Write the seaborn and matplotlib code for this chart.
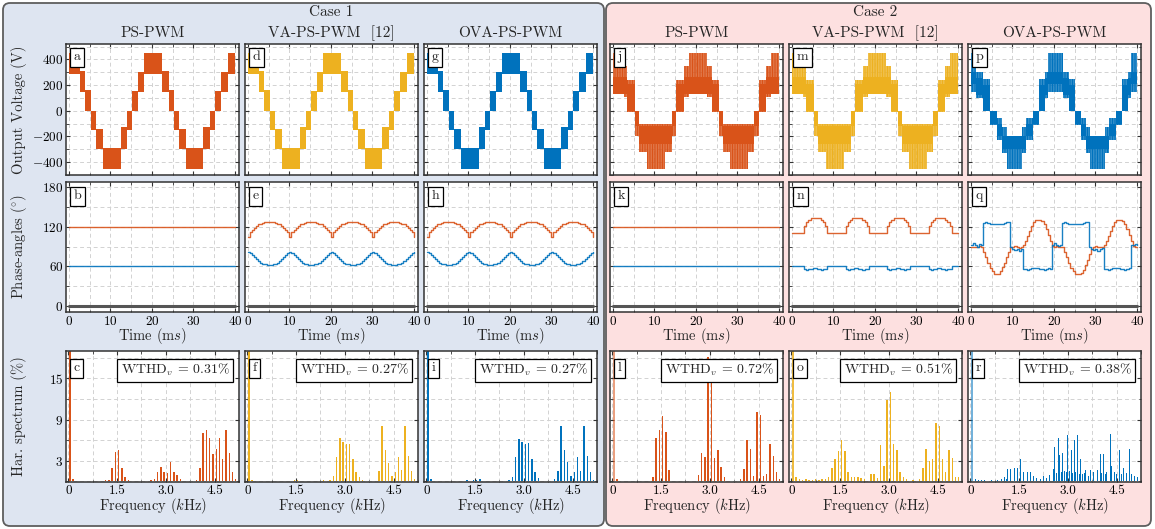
import numpy as np
import pandas as pd
import matplotlib
matplotlib.use("Agg")
import matplotlib.pyplot as plt
import seaborn as sns
from matplotlib.patches import FancyBboxPatch
from matplotlib.ticker import MultipleLocator, FixedLocator, FixedFormatter, NullFormatter

# ---------------------------------------------------------------- data
CASES = ["Case 1", "Case 2"]
METHODS = ["PS-PWM", "VA-PS-PWM  [12]", "OVA-PS-PWM"]
LETTERS = ["a", "b", "c", "d", "e", "f", "g", "h", "i",
           "j", "k", "l", "m", "n", "o", "p", "q", "r"]
WTHD = ["0.31", "0.27", "0.27", "0.72", "0.51", "0.38"]

# ---- output voltage (V): step envelopes (segment start in ms, band low / high)
C1_T = [0, 2.6, 4.0, 5.4, 6.6, 8.3, 12.5, 14.1, 15.3, 16.7, 18.1,
        22.4, 24.2, 25.4, 26.6, 28.2, 32.4, 34.0, 35.2, 36.7, 38.3]
C1_LO = [290, 150, 0, -150, -300, -450, -300, -150, 0, 150, 290,
         150, 0, -150, -300, -450, -300, -150, 0, 150, 290]
C1_HI = [450, 310, 160, 0, -140, -290, -130, 0, 155, 300, 450,
         310, 160, 0, -140, -290, -130, 0, 155, 300, 450]

C2A_T = [0, 2.7, 3.5, 5.4, 6.2, 8.2, 12.6, 14.2, 15.3, 17.1, 18.3,
         22.7, 23.9, 25.5, 26.5, 28.2, 32.5, 34.1, 35.2, 37.0, 38.2]
C2A_CORE_LO = [130, 130, 0, -120, -260, -260, -260, -120, 0, 130, 130,
               130, 0, -120, -260, -260, -260, -120, 0, 130, 130]
C2A_CORE_HI = [260, 260, 210, 0, -120, -120, -120, 0, 210, 260, 260,
               260, 210, 0, -120, -120, -120, 0, 210, 260, 260]
C2A_SPK_LO = [130, 110, -10, -200, -320, -450, -320, -200, -10, 110, 130,
              110, -10, -200, -320, -450, -320, -200, -10, 110, 130]
C2A_SPK_HI = [450, 350, 240, 0, -100, -100, -100, 0, 240, 350, 450,
              350, 240, 0, -100, -100, -100, 0, 240, 350, 450]

C2B_T = [0, 1.3, 2.8, 4.6, 6.3, 7.6, 8.6, 12.4, 13.4, 14.9, 16.4, 17.8, 18.7,
         22.2, 23.6, 25.2, 26.6, 27.8, 28.8, 32.4, 33.4, 34.9, 36.4, 37.8, 38.7]
C2B_CORE_LO = [210, 120, 0, -100, -200, -300, -300, -300, -200, -100, 0, 120, 210,
               120, 0, -100, -200, -300, -300, -300, -200, -100, 0, 120, 210]
C2B_CORE_HI = [300, 255, 200, 0, -100, -200, -200, -200, -100, 0, 200, 255, 300,
               255, 200, 0, -100, -200, -200, -200, -100, 0, 200, 255, 300]
C2B_SPK_LO = [150, 100, 0, -110, -230, -330, -450, -330, -230, -110, 0, 100, 150,
              100, 0, -110, -230, -330, -450, -330, -230, -110, 0, 100, 150]
C2B_SPK_HI = [450, 300, 250, 0, -60, -130, -200, -130, -60, 0, 250, 300, 450,
              300, 250, 0, -60, -130, -200, -130, -60, 0, 250, 300, 450]

# ---- phase angles (deg), sampled every 0.5 ms from 0 to 40 ms
T_PHASE = np.linspace(0, 40, 81)
PS_ORANGE, PS_BLUE, ZERO_LINE = 120, 60, 0

VA1_ORANGE = [105, 112, 116, 119, 122, 124, 125, 126, 127, 127,
              127, 127, 127, 126, 125, 124, 122, 119, 116, 112,
              105, 112, 116, 119, 122, 124, 125, 126, 127, 127,
              127, 127, 127, 126, 125, 124, 122, 119, 116, 112,
              105, 112, 116, 119, 122, 124, 125, 126, 127, 127,
              127, 127, 127, 126, 125, 124, 122, 119, 116, 112,
              105, 112, 116, 119, 122, 124, 125, 126, 127, 127,
              127, 127, 127, 126, 125, 124, 122, 119, 116, 112,
              105]
VA1_BLUE = [82, 80, 77, 74, 71, 68, 66, 64, 63, 62,
            62, 62, 63, 64, 66, 68, 71, 74, 77, 80,
            82, 80, 77, 74, 71, 68, 66, 64, 63, 62,
            62, 62, 63, 64, 66, 68, 71, 74, 77, 80,
            82, 80, 77, 74, 71, 68, 66, 64, 63, 62,
            62, 62, 63, 64, 66, 68, 71, 74, 77, 80,
            82, 80, 77, 74, 71, 68, 66, 64, 63, 62,
            62, 62, 63, 64, 66, 68, 71, 74, 77, 80,
            82]
VA2_ORANGE = [111, 111, 111, 111, 111, 111, 121, 127, 131, 134,
              134, 134, 134, 134, 131, 127, 121, 111, 111, 111,
              111, 111, 111, 111, 111, 111, 121, 127, 131, 134,
              134, 134, 134, 134, 131, 127, 121, 111, 111, 111,
              111, 111, 111, 111, 111, 111, 121, 127, 131, 134,
              134, 134, 134, 134, 131, 127, 121, 111, 111, 111,
              111, 111, 111, 111, 111, 111, 121, 127, 131, 134,
              134, 134, 134, 134, 131, 127, 121, 111, 111, 111,
              111]
VA2_BLUE = [60, 60, 60, 60, 60, 60, 56, 55, 56, 56,
            57, 57, 56, 56, 55, 56, 56, 60, 60, 60,
            60, 60, 60, 60, 60, 60, 56, 55, 56, 56,
            57, 57, 56, 56, 55, 56, 56, 60, 60, 60,
            60, 60, 60, 60, 60, 60, 56, 55, 56, 56,
            57, 57, 56, 56, 55, 56, 56, 60, 60, 60,
            60, 60, 60, 60, 60, 60, 56, 55, 56, 56,
            57, 57, 56, 56, 55, 56, 56, 60, 60, 60,
            60]
OVA2_ORANGE = [90, 90, 89, 90, 91, 90, 82, 74, 66, 58,
               53, 49, 48, 49, 53, 59, 66, 74, 82, 89,
               90, 91, 89, 88, 90, 92, 98, 106, 114, 121,
               127, 130, 131, 131, 129, 124, 117, 108, 99, 91,
               90, 91, 89, 90, 90, 82, 74, 66, 58, 53,
               49, 48, 48, 50, 55, 62, 70, 79, 87, 90,
               91, 89, 90, 90, 92, 98, 106, 114, 121, 127,
               130, 131, 131, 129, 124, 117, 108, 99, 91, 90,
               90]
OVA2_BLUE = [93, 95, 92, 90, 94, 93, 126, 127, 126, 125,
             124, 124, 124, 124, 125, 125, 126, 127, 127, 89,
             87, 85, 86, 84, 86, 56, 56, 55, 56, 57,
             57, 57, 57, 56, 56, 55, 56, 58, 56, 93,
             95, 92, 91, 93, 126, 127, 126, 125, 124, 124,
             124, 124, 125, 125, 126, 127, 127, 89, 87, 85,
             86, 84, 86, 88, 56, 56, 55, 56, 57, 57,
             57, 57, 56, 56, 55, 56, 57, 93, 92, 94,
             92]

# ---- harmonic spectra (kHz, % of fundamental)
C_F = [0.05, 0.15, 1.15, 1.25, 1.35, 1.45, 1.55, 1.65, 1.75, 1.85,
       2.55, 2.65, 2.75, 2.85, 2.95, 3.05, 3.15, 3.25, 3.35, 3.45,
       3.95, 4.05, 4.15, 4.25, 4.35, 4.45, 4.55, 4.65, 4.75, 4.85, 4.95, 5.05, 5.15]
C_V = [100, 0.3, 0.15, 0.2, 1.9, 4.3, 4.5, 2.0, 0.6, 0.15,
       0.15, 0.4, 1.3, 2.1, 1.4, 1.2, 2.8, 1.3, 0.9, 0.3,
       0.2, 1.9, 7.0, 7.5, 6.3, 4.0, 4.7, 6.3, 3.3, 7.5, 4.2, 1.4, 0.3]
F_F = [0.05, 0.15, 0.35, 1.05, 1.45, 1.55, 2.05, 2.35, 2.55,
       2.65, 2.75, 2.85, 2.95, 3.05, 3.15, 3.25, 3.35, 3.45, 3.55,
       4.05, 4.15, 4.25, 4.35, 4.45, 4.55, 4.65, 4.75, 4.85, 4.95, 5.05, 5.15]
F_V = [100, 0.25, 0.1, 0.1, 0.15, 0.15, 0.1, 0.15, 0.15,
       0.8, 3.6, 6.3, 5.7, 5.4, 5.5, 3.2, 1.3, 0.7, 0.2,
       1.5, 8.0, 4.6, 2.7, 0.8, 1.4, 3.6, 1.6, 8.0, 3.7, 1.5, 0.3]
I_F = [0.05, 0.15, 1.25, 1.45, 1.55, 1.65, 2.25, 2.55,
       2.65, 2.75, 2.85, 2.95, 3.05, 3.15, 3.25, 3.35, 3.45,
       3.95, 4.05, 4.15, 4.25, 4.35, 4.45, 4.55, 4.65, 4.75, 4.85, 4.95, 5.05, 5.15]
I_V = [100, 0.3, 0.2, 0.15, 0.25, 0.3, 0.1, 0.15,
       0.7, 3.6, 6.2, 5.8, 5.5, 5.6, 3.2, 1.4, 0.5,
       0.4, 1.5, 8.0, 4.6, 2.8, 0.8, 1.4, 3.5, 1.5, 8.0, 3.7, 1.4, 0.2]
L_F = [0.05, 0.15, 1.25, 1.35, 1.45, 1.55, 1.65, 1.75,
       2.65, 2.75, 2.85, 2.95, 3.05, 3.15, 3.25, 3.35, 3.45,
       3.95, 4.05, 4.15, 4.25, 4.35, 4.45, 4.55, 4.65, 4.75, 4.85, 4.95, 5.05, 5.15]
L_V = [100, 0.3, 0.6, 6.3, 7.5, 9.5, 7.2, 1.6,
       0.9, 4.1, 3.6, 18.1, 16.4, 3.4, 4.5, 2.1, 0.6,
       0.3, 1.8, 6.0, 4.7, 0.8, 10.1, 9.7, 0.8, 1.1, 5.5, 3.7, 1.4, 0.3]
O_F = [0.05, 0.15, 0.25, 0.35, 0.45, 0.55, 0.65, 0.75, 0.85, 0.95,
       1.05, 1.15, 1.25, 1.35, 1.45, 1.55, 1.65, 1.75, 1.85, 1.95,
       2.05, 2.15, 2.25, 2.45, 2.55, 2.65, 2.75, 2.85, 2.95, 3.05,
       3.15, 3.25, 3.35, 3.45, 3.55, 3.75, 3.95, 4.05, 4.15, 4.25,
       4.35, 4.45, 4.55, 4.65, 4.75, 4.85, 4.95, 5.05, 5.15]
O_V = [100, 0.6, 0.3, 0.2, 0.3, 0.2, 0.2, 0.3, 0.2, 0.3,
       0.3, 0.7, 1.9, 3.3, 4.4, 6.0, 4.4, 1.4, 0.7, 0.7,
       0.7, 0.5, 0.3, 1.1, 1.1, 0.5, 5.3, 2.3, 11.8, 13.0,
       5.5, 4.6, 1.3, 0.6, 0.3, 0.2, 0.3, 1.9, 4.7, 2.9,
       3.3, 8.5, 8.0, 3.2, 1.3, 4.6, 3.4, 0.7, 0.7]
R_F = [0.05, 0.15, 0.25, 0.35, 0.45, 0.55, 0.65, 0.75, 0.85, 0.95,
       1.05, 1.1, 1.15, 1.25, 1.35, 1.45, 1.55, 1.65, 1.75, 1.85,
       1.95, 2.05, 2.15, 2.25, 2.35, 2.45, 2.55, 2.6, 2.65, 2.7,
       2.75, 2.8, 2.85, 2.9, 2.95, 3.0, 3.05, 3.1, 3.15, 3.2,
       3.25, 3.3, 3.35, 3.4, 3.45, 3.5, 3.55, 3.65, 3.7, 3.8,
       3.9, 4.0, 4.05, 4.1, 4.15, 4.2, 4.3, 4.35, 4.45, 4.5,
       4.6, 4.65, 4.7, 4.8, 4.9, 4.95, 5.05, 5.15]
R_V = [100, 0.3, 0.2, 0.15, 0.2, 0.1, 0.15, 0.1, 0.2, 0.3,
       0.6, 0.4, 1.8, 1.8, 2.0, 2.0, 3.2, 1.4, 1.4, 1.4,
       0.8, 0.5, 0.4, 0.8, 0.5, 0.9, 1.8, 5.0, 1.2, 6.3,
       3.8, 1.4, 4.2, 1.5, 1.3, 6.7, 1.5, 4.5, 1.2, 6.0,
       1.3, 6.7, 1.0, 3.3, 1.0, 1.2, 1.6, 0.8, 1.7, 1.4,
       1.6, 4.0, 1.2, 4.0, 1.0, 1.4, 6.9, 2.3, 1.4, 1.0,
       4.5, 1.0, 2.0, 1.2, 4.7, 1.0, 0.8, 0.6]

FREQ_TICKS = [0, 1.5, 3.0, 4.5]
FREQ_LABELS = ["0", "1.5", "3.0", "4.5"]

# ---------------------------------------------------------------- style
sns.set_theme(style="ticks")
plt.rcParams.update({
    "font.family": ["cmr10", "DejaVu Serif"],
    "mathtext.fontset": "cm",
    "axes.unicode_minus": False,
    "axes.formatter.use_mathtext": True,
    "hatch.linewidth": 1.0,
})

ORANGE, YELLOW, BLUE = "#D95319", "#EDB120", "#0072BD"
COLORS = [ORANGE, YELLOW, BLUE]
W, H = 1155, 529
COL_LEFT = [66, 245, 424, 610, 789, 968]
COL_W = 173
ROWS = [(44, 175), (182, 312), (351, 482)]

fig = plt.figure(figsize=(W / 100, H / 100), dpi=100)
fig.patch.set_facecolor("white")

# case background panels
for (x0, x1, fc) in [(3, 604, "#dee5f1"), (606, 1151, "#fde0e0")]:
    box = FancyBboxPatch((x0 / 100, (H - 526) / 100), (x1 - x0) / 100, 523 / 100,
                         boxstyle="round,pad=0,rounding_size=0.07",
                         transform=fig.dpi_scale_trans, fc=fc, ec="#5e5e5e",
                         lw=1.3, zorder=-10)
    fig.add_artist(box)


def make_ax(col, row):
    top, bot = ROWS[row]
    ax = fig.add_axes([COL_LEFT[col] / W, 1 - bot / H, COL_W / W, (bot - top) / H])
    ax.set_facecolor("white")
    for s in ax.spines.values():
        s.set_visible(True)
        s.set_linewidth(1.1)
        s.set_color("#333333")
    ax.tick_params(which="both", direction="in", top=True, right=True,
                   colors="#333333", labelcolor="black", labelsize=9.5, pad=2)
    ax.tick_params(which="major", length=3.2, width=0.8)
    ax.tick_params(which="minor", length=1.8, width=0.6)
    ax.grid(True, which="both", ls=(0, (4, 3)), color="#d2d2d2", lw=0.7)
    ax.set_axisbelow(True)
    return ax


def letter(ax, s, dy):
    ax.annotate(s, xy=(0, 1), xycoords="axes fraction", xytext=(5.4, -dy),
                textcoords="offset points", ha="left", va="top", fontsize=10,
                bbox=dict(boxstyle="square,pad=0.25", fc="white", ec="black", lw=0.9),
                zorder=10)


def band(ax, t, lo, hi, **kw):
    x = np.r_[t, 40.0]
    ax.fill_between(x, np.r_[lo, lo[-1]], np.r_[hi, hi[-1]], step="post", **kw)


def phase_line(ax, t, y, color, lw=1.0, alpha=0.9):
    df = pd.DataFrame({"t": t, "deg": y})
    sns.lineplot(data=df, x="t", y="deg", ax=ax, color=color, lw=lw, alpha=alpha,
                 drawstyle="steps-post", estimator=None, errorbar=None, legend=False)


voltage = [
    ("c1", C1_T, C1_LO, C1_HI), ("c1", C1_T, C1_LO, C1_HI), ("c1", C1_T, C1_LO, C1_HI),
    ("c2", C2A_T, C2A_CORE_LO, C2A_CORE_HI, C2A_SPK_LO, C2A_SPK_HI),
    ("c2", C2A_T, C2A_CORE_LO, C2A_CORE_HI, C2A_SPK_LO, C2A_SPK_HI),
    ("c2", C2B_T, C2B_CORE_LO, C2B_CORE_HI, C2B_SPK_LO, C2B_SPK_HI),
]
phases = [None, (VA1_ORANGE, VA1_BLUE), (VA1_ORANGE, VA1_BLUE),
          None, (VA2_ORANGE, VA2_BLUE), (OVA2_ORANGE, OVA2_BLUE)]
spectra = [(C_F, C_V), (F_F, F_V), (I_F, I_V), (L_F, L_V), (O_F, O_V), (R_F, R_V)]
fund_alpha = [1.0, 1.0, 1.0, 0.55, 0.85, 0.55]

for col in range(6):
    c = COLORS[col % 3]
    # ---------- row 1: output voltage
    ax = make_ax(col, 0)
    v = voltage[col]
    if v[0] == "c1":
        band(ax, v[1], v[2], v[3], facecolor=c, lw=0)
    else:
        band(ax, v[1], v[4], v[5], facecolor=c, alpha=0.3, lw=0)
        band(ax, v[1], v[4], v[5], facecolor="none", edgecolor=c,
             hatch="||||||||||", lw=0)
        band(ax, v[1], v[2], v[3], facecolor=c, lw=0)
    ax.set_xlim(-0.7, 41)
    ax.set_ylim(-500, 520)
    ax.xaxis.set_major_locator(MultipleLocator(10))
    ax.xaxis.set_minor_locator(MultipleLocator(5))
    ax.yaxis.set_major_locator(MultipleLocator(200))
    ax.yaxis.set_minor_locator(MultipleLocator(100))
    ax.xaxis.set_major_formatter(NullFormatter())
    if col != 0:
        ax.yaxis.set_major_formatter(NullFormatter())
    letter(ax, LETTERS[col * 3], 5.2)

    # ---------- row 2: phase angles
    ax = make_ax(col, 1)
    phase_line(ax, [0, 40], [ZERO_LINE, ZERO_LINE], "#555555", lw=2.2, alpha=1.0)
    if phases[col] is None:
        phase_line(ax, [0, 40], [PS_ORANGE, PS_ORANGE], ORANGE)
        phase_line(ax, [0, 40], [PS_BLUE, PS_BLUE], BLUE)
    else:
        phase_line(ax, T_PHASE, phases[col][0], ORANGE)
        phase_line(ax, T_PHASE, phases[col][1], BLUE)
    ax.set_xlabel("")
    ax.set_ylabel("")
    ax.set_xlim(-0.7, 41)
    ax.set_ylim(-9, 188)
    ax.xaxis.set_major_locator(MultipleLocator(10))
    ax.xaxis.set_minor_locator(MultipleLocator(5))
    ax.yaxis.set_major_locator(MultipleLocator(60))
    ax.yaxis.set_minor_locator(MultipleLocator(30))
    if col != 0:
        ax.yaxis.set_major_formatter(NullFormatter())
    letter(ax, LETTERS[col * 3 + 1], 6.0)

    # ---------- row 3: harmonic spectrum
    ax = make_ax(col, 2)
    f, a = spectra[col]
    bw = 0.03 if col == 5 else 0.045
    ax.bar(f[1:], a[1:], width=bw, color=c, lw=0)
    ax.bar(f[:1], a[:1], width=0.06, color=c, alpha=fund_alpha[col], lw=0)
    ax.set_xlim(-0.07, 5.25)
    ax.set_ylim(-0.1, 19)
    ax.xaxis.set_major_locator(FixedLocator(FREQ_TICKS))
    ax.xaxis.set_major_formatter(FixedFormatter(FREQ_LABELS))
    ax.xaxis.set_minor_locator(MultipleLocator(0.75))
    ax.yaxis.set_major_locator(FixedLocator([3, 9, 15]))
    ax.yaxis.set_minor_locator(MultipleLocator(3))
    if col != 0:
        ax.yaxis.set_major_formatter(NullFormatter())
    letter(ax, LETTERS[col * 3 + 2], 8.0)
    ax.annotate(r"WTHD$_v$ = " + WTHD[col] + "%", xy=(1, 1), xycoords="axes fraction",
                xytext=(-6.8, -8.0), textcoords="offset points", ha="right", va="top",
                fontsize=10,
                bbox=dict(boxstyle="square,pad=0.25", fc="white", ec="black", lw=0.9),
                zorder=10)

    # column texts
    xc = (COL_LEFT[col] + COL_W / 2) / W
    fig.text(xc, 1 - 33 / H, METHODS[col % 3], ha="center", va="center", fontsize=11)
    fig.text(xc, 1 - 336 / H, r"Time (m$s$)", ha="center", va="center", fontsize=10.5)
    fig.text(xc, 1 - 506 / H, r"Frequency ($k$Hz)", ha="center", va="center", fontsize=10.5)

for i, name in enumerate(CASES):
    xc = (COL_LEFT[3 * i] + COL_LEFT[3 * i + 2] + COL_W) / 2 / W
    fig.text(xc, 1 - 12 / H, name, ha="center", va="center", fontsize=11)

for (top, bot), lab in zip(ROWS, ["Output Voltage (V)", r"Phase-angles ($^{\circ}$)",
                                  "Har. spectrum (%)"]):
    fig.text(19 / W, 1 - (top + bot) / 2 / H, lab, rotation=90, ha="center",
             va="center", fontsize=10.5)

fig.savefig("out.png", dpi=100)
